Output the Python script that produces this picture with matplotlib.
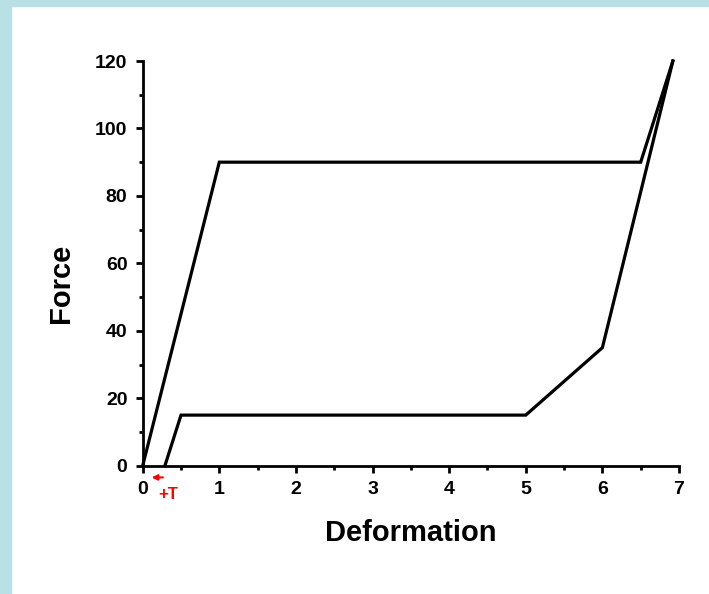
import numpy as np
from matplotlib import pyplot as plt
from matplotlib.patches import Rectangle
from matplotlib.ticker import MultipleLocator

# loading / unloading curves
load_x = [0, 1, 6.5, 6.92]
load_f = [0, 90, 90, 120]
unload_x = [0.29, 0.5, 5, 6, 6.92]
unload_f = [0, 15, 15, 35, 120]

xticks = [0, 1, 2, 3, 4, 5, 6, 7]
yticks = [0, 20, 40, 60, 80, 100, 120]

plt.rcParams['font.family'] = ['Liberation Sans', 'DejaVu Sans']
plt.rcParams['font.weight'] = 'bold'

fig = plt.figure(figsize=(7.09, 5.94), dpi=100)
W, H = 709, 594
bg = '#b9e0e4'
fig.patches.append(Rectangle((0, 0), 11 / W, 1, transform=fig.transFigure, color=bg, zorder=0))
fig.patches.append(Rectangle((0, 1 - 6 / H), 1, 6 / H, transform=fig.transFigure, color=bg, zorder=0))

ax = fig.add_axes([142.7 / W, 128.3 / H, (679 - 142.7) / W, (465.7 - 61) / H])
ax.plot(load_x, load_f, color='black', lw=2.3, clip_on=False, solid_joinstyle='miter')
ax.plot(unload_x, unload_f, color='black', lw=2.3, clip_on=False, solid_joinstyle='miter')

ax.set_xlim(0, 7)
ax.set_ylim(0, 120)
ax.set_xticks(xticks)
ax.set_yticks(yticks)
ax.xaxis.set_minor_locator(MultipleLocator(0.5))
ax.yaxis.set_minor_locator(MultipleLocator(10))
for s in ['top', 'right']:
    ax.spines[s].set_visible(False)
for s in ['left', 'bottom']:
    ax.spines[s].set_linewidth(2.0)
ax.tick_params(which='major', direction='out', length=5, width=2, labelsize=14, pad=6)
ax.tick_params(which='minor', direction='out', length=3, width=2)
for lab in ax.get_xticklabels() + ax.get_yticklabels():
    lab.set_fontweight('bold')

ax.set_xlabel('Deformation', fontsize=21, fontweight='bold', labelpad=15)
ax.text(-0.152, 0.45, 'Force', transform=ax.transAxes, rotation=90, fontsize=21,
        fontweight='bold', ha='center', va='center')

# red shift marker under the axis
tr = ax.get_xaxis_transform()
ax.annotate('', xy=(0.08, -0.029), xytext=(0.3, -0.029), xycoords=tr, textcoords=tr,
            arrowprops=dict(arrowstyle='-|>', color='red', lw=1.5, mutation_scale=8),
            annotation_clip=False)
ax.text(0.33, -0.07, '+T', transform=tr, color='red', fontsize=12, fontweight='bold',
        ha='center', va='center')

fig.savefig('out.png', dpi=100)
